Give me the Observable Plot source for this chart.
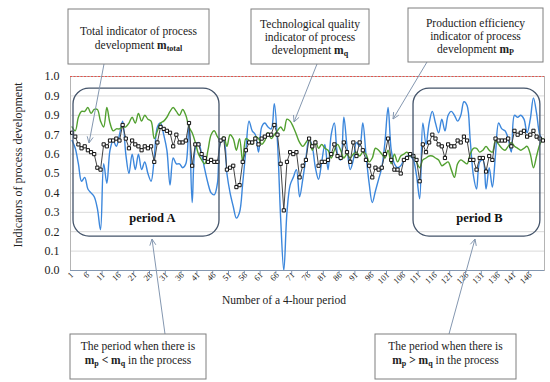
<!DOCTYPE html>
<html>
<head>
<meta charset="utf-8">
<script src="https://cdn.jsdelivr.net/npm/d3@7"></script>
<script src="https://cdn.jsdelivr.net/npm/@observablehq/plot@0.6"></script>
<style>
  html, body { margin: 0; padding: 0; background: #fff; }
  svg { display: block; }
</style>
</head>
<body>
<script>
// ---------------- DATA ----------------
const periods = d3.range(1, 151); // number of a 4-hour period

// Production efficiency indicator m_P (blue)
const mP = [
  0.67,0.63,0.55,0.46,0.48,0.42,0.40,0.38,0.32,0.21,
  0.55,0.45,0.62,0.67,0.64,0.70,0.77,0.60,0.50,0.60,
  0.52,0.60,0.52,0.56,0.50,0.46,0.58,0.74,0.76,0.70,
  0.62,0.44,0.58,0.55,0.55,0.53,0.55,0.77,0.35,0.63,
  0.66,0.60,0.52,0.45,0.40,0.39,0.45,0.66,0.67,0.50,
  0.40,0.33,0.27,0.30,0.45,0.62,0.77,0.72,0.70,0.61,
  0.74,0.76,0.74,0.73,0.86,0.66,0.27,0.00,0.30,0.44,
  0.48,0.52,0.38,0.47,0.58,0.68,0.64,0.53,0.47,0.56,
  0.65,0.52,0.70,0.76,0.60,0.57,0.79,0.64,0.52,0.57,
  0.66,0.64,0.76,0.60,0.45,0.35,0.41,0.47,0.53,0.66,
  0.84,0.62,0.55,0.53,0.54,0.57,0.59,0.59,0.57,0.49,
  0.37,0.76,0.65,0.76,0.82,0.76,0.71,0.78,0.72,0.80,
  0.82,0.80,0.77,0.80,0.87,0.85,0.67,0.49,0.42,0.56,
  0.57,0.42,0.53,0.43,0.60,0.76,0.73,0.72,0.68,0.61,
  0.80,0.79,0.80,0.78,0.71,0.78,0.89,0.81,0.70,0.67
];

// Technological quality indicator m_q (green)
const mQ = [
  0.74,0.72,0.79,0.82,0.82,0.84,0.81,0.83,0.83,0.77,
  0.74,0.84,0.76,0.72,0.73,0.73,0.74,0.74,0.76,0.79,
  0.76,0.81,0.77,0.80,0.78,0.77,0.68,0.72,0.76,0.77,
  0.79,0.82,0.84,0.82,0.80,0.83,0.80,0.74,0.71,0.66,
  0.60,0.57,0.55,0.62,0.70,0.72,0.69,0.67,0.69,0.64,
  0.70,0.68,0.62,0.68,0.56,0.68,0.67,0.65,0.69,0.68,
  0.65,0.67,0.71,0.68,0.70,0.72,0.74,0.72,0.78,0.77,
  0.74,0.70,0.66,0.64,0.66,0.68,0.62,0.67,0.63,0.65,
  0.63,0.62,0.58,0.62,0.65,0.62,0.58,0.60,0.58,0.60,
  0.61,0.59,0.61,0.60,0.56,0.58,0.63,0.62,0.60,0.58,
  0.62,0.55,0.60,0.56,0.59,0.60,0.61,0.59,0.60,0.56,
  0.53,0.57,0.58,0.59,0.59,0.58,0.57,0.54,0.55,0.56,
  0.52,0.48,0.55,0.57,0.56,0.55,0.60,0.63,0.63,0.61,
  0.62,0.64,0.62,0.61,0.67,0.65,0.63,0.62,0.64,0.66,
  0.64,0.63,0.62,0.63,0.64,0.60,0.53,0.59,0.65,0.68
];

// Total indicator m_total (black squares)
const mTotal = [
  0.71,0.69,0.65,0.63,0.64,0.62,0.61,0.60,0.53,0.52,
  0.65,0.64,0.67,0.67,0.68,0.67,0.75,0.68,0.63,0.67,
  0.65,0.64,0.62,0.64,0.63,0.64,0.56,0.66,0.74,0.73,
  0.72,0.71,0.64,0.70,0.66,0.66,0.67,0.76,0.54,0.65,
  0.65,0.60,0.58,0.56,0.57,0.56,0.56,0.67,0.68,0.52,
  0.53,0.54,0.43,0.44,0.56,0.62,0.66,0.66,0.68,0.65,
  0.68,0.69,0.70,0.70,0.75,0.70,0.55,0.31,0.56,0.61,
  0.60,0.61,0.48,0.54,0.57,0.68,0.64,0.66,0.54,0.56,
  0.56,0.57,0.60,0.65,0.59,0.58,0.66,0.61,0.56,0.66,
  0.59,0.66,0.62,0.57,0.54,0.48,0.53,0.52,0.53,0.60,
  0.68,0.57,0.52,0.52,0.50,0.57,0.58,0.60,0.59,0.57,
  0.46,0.65,0.61,0.66,0.70,0.68,0.65,0.64,0.58,0.65,
  0.64,0.64,0.67,0.66,0.69,0.67,0.57,0.57,0.52,0.58,
  0.58,0.51,0.59,0.57,0.68,0.67,0.67,0.67,0.68,0.64,
  0.72,0.70,0.71,0.72,0.69,0.70,0.72,0.69,0.68,0.67
];

// tick labels
const xTickValues = [1,6,11,16,21,26,31,36,41,46,51,56,61,66,71,76,81,86,91,96,101,106,111,116,121,126,131,136,141,146];
const xTickLabels = ["1","6","11","16","21","26","31","36","41","46","51","56","61","66","71","76","81","86","91","96","101","106","111","116","121","126","131","136","141","146"];
const xTickMarks = [5.5,10.5,15.5,20.5,25.5,30.5,35.5,40.5,45.5,50.5,55.5,60.5,65.5,70.5,75.5,80.5,85.5,90.5,95.5,100.5,105.5,110.5,115.5,120.5,125.5,130.5,135.5,140.5,145.5];
const yTickValues = [0,0.1,0.2,0.3,0.4,0.5,0.6,0.7,0.8,0.9,1.0];
const yTickLabels = ["0.0","0.1","0.2","0.3","0.4","0.5","0.6","0.7","0.9","0.9","1.0"];
const yGridValues = [0.1,0.2,0.3,0.4,0.5,0.6,0.7,0.8,0.9];

// highlighted periods
const periodBoxes = [
  {name: "period A", x1: 1.45, x2: 47.65, y1: 0.175, y2: 0.938, lx: 26.4, ly: 0.27},
  {name: "period B", x1: 109.05, x2: 149.2, y1: 0.175, y2: 0.938, lx: 129.9, ly: 0.27}
];

// ---------------- TABLES ----------------
const rowsP = periods.map((p, i) => ({p, v: mP[i]}));
const rowsQ = periods.map((p, i) => ({p, v: mQ[i]}));
const rowsT = periods.map((p, i) => ({p, v: mTotal[i]}));
const xLab = new Map(xTickValues.map((v, i) => [v, xTickLabels[i]]));
const yLab = new Map(yTickValues.map((v, i) => [v, yTickLabels[i]]));

const serif = "'Liberation Serif', 'Times New Roman', serif";
const axisColor = "#8497b0";

const chart = Plot.plot({
  width: 550,
  height: 382,
  marginLeft: 70,
  marginRight: 6,
  marginTop: 76,
  marginBottom: 112,
  style: {fontFamily: serif, background: "#fff", color: "#222", overflow: "visible"},
  x: {domain: [0.5, 150.5]},
  y: {domain: [0, 1]},
  marks: [
    Plot.gridY(yGridValues, {stroke: "#d9d9d9", strokeOpacity: 1}),
    Plot.frame({stroke: "#b4b4b4"}),
    Plot.ruleY([1], {stroke: "#e5534b", strokeDasharray: "2,1.5", strokeWidth: 1}),
    Plot.ruleY([0], {stroke: axisColor}),
    Plot.axisY(yTickValues, {tickSize: 0, tickPadding: 11, fontSize: 12, tickFormat: d => yLab.get(d), label: null}),
    Plot.axisX(xTickMarks, {tickSize: 4, stroke: axisColor, tickFormat: () => "", label: null}),
    Plot.axisX(xTickValues, {tickSize: 0, tickPadding: 3, tickRotate: -45, fontSize: 8.5, tickFormat: d => xLab.get(d), label: null}),
    Plot.line(rowsP, {x: "p", y: "v", curve: "catmull-rom", stroke: "#3c87dc", strokeWidth: 1.4, clip: true}),
    Plot.line(rowsQ, {x: "p", y: "v", curve: "catmull-rom", stroke: "#52a030", strokeWidth: 1.4}),
    Plot.line(rowsT, {x: "p", y: "v", stroke: "#444", strokeWidth: 1}),
    Plot.dot(rowsT, {x: "p", y: "v", symbol: "square", r: 1.8, fill: "#fff", stroke: "#111", strokeWidth: 1}),
    Plot.rect(periodBoxes, {x1: "x1", x2: "x2", y1: "y1", y2: "y2", rx: 16, fill: "none", stroke: "#44546a", strokeWidth: 1.3}),
    Plot.text(periodBoxes, {x: "lx", y: "ly", text: "name", fontSize: 12.5, fontWeight: "bold", fill: "#111"})
  ]
});
document.body.append(chart);

// ---------------- ANNOTATIONS (layout, pixel space) ----------------
const svg = d3.select(chart);
const ann = svg.append("g").attr("font-family", serif).attr("fill", "#222");

// axis titles
ann.append("text").attr("transform", "translate(22,165) rotate(-90)")
  .attr("text-anchor", "middle").attr("font-size", 12).text("Indicators of process development");
ann.append("text").attr("x", 284).attr("y", 304)
  .attr("text-anchor", "middle").attr("font-size", 11.5).text("Number of a 4-hour period");

// connectors
const connectors = [
  [104, 64, 89, 143],
  [317, 64, 294, 122],
  [427, 62, 393, 119],
  [165, 334, 152, 239],
  [449, 334, 475, 239]
];
connectors.forEach(([x1, y1, x2, y2]) => {
  ann.append("line").attr("x1", x1).attr("y1", y1).attr("x2", x2).attr("y2", y2)
    .attr("stroke", "#8497b0").attr("stroke-width", 1);
  const a = Math.atan2(y2 - y1, x2 - x1), L = 7, s = 0.45;
  const p1 = [x2 - L * Math.cos(a - s), y2 - L * Math.sin(a - s)];
  const p2 = [x2 - L * Math.cos(a + s), y2 - L * Math.sin(a + s)];
  ann.append("path").attr("d", `M${p1}L${x2},${y2}L${p2}`)
    .attr("fill", "none").attr("stroke", "#8497b0").attr("stroke-width", 1);
});

// text boxes
function box(x, y, w, h, lines, firstY, step) {
  ann.append("rect").attr("x", x).attr("y", y).attr("width", w).attr("height", h)
    .attr("fill", "#fff").attr("stroke", "#7f7f7f").attr("stroke-width", 1);
  lines.forEach((segs, li) => {
    const t = ann.append("text").attr("x", x + w / 2).attr("y", firstY + li * step)
      .attr("text-anchor", "middle").attr("font-size", 11.5);
    segs.forEach(s => {
      const ts = t.append("tspan").text(s.t);
      if (s.b) ts.attr("font-weight", "bold");
      if (s.sub) ts.attr("font-size", 8).attr("baseline-shift", "-2");
    });
  });
}
box(68, 9, 141, 55, [
  [{t: "Total indicator of process"}],
  [{t: "development "}, {t: "m", b: 1}, {t: "total", b: 1, sub: 1}]
], 35, 13.5);
box(251, 9, 118, 55, [
  [{t: "Technological quality"}],
  [{t: "indicator of process"}],
  [{t: "development "}, {t: "m", b: 1}, {t: "q", b: 1, sub: 1}]
], 27.5, 13.2);
box(408, 8, 135, 54, [
  [{t: "Production efficiency"}],
  [{t: "indicator of process"}],
  [{t: "development "}, {t: "m", b: 1}, {t: "P", b: 1, sub: 1}]
], 26.5, 13);
box(70, 334, 136, 45, [
  [{t: "The period when there is"}],
  [{t: "m", b: 1}, {t: "p", b: 1, sub: 1}, {t: " < ", b: 1}, {t: "m", b: 1}, {t: "q", b: 1, sub: 1}, {t: " in the process"}]
], 350, 14);
box(375, 334, 141, 45, [
  [{t: "The period when there is"}],
  [{t: "m", b: 1}, {t: "p", b: 1, sub: 1}, {t: " > ", b: 1}, {t: "m", b: 1}, {t: "q", b: 1, sub: 1}, {t: " in the process"}]
], 350, 14);
</script>
</body>
</html>
